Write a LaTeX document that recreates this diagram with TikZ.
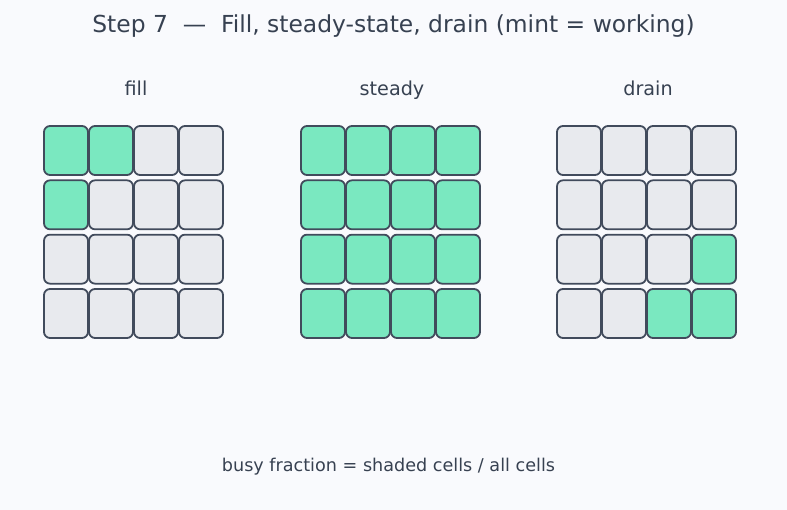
\documentclass[tikz,border=0pt]{standalone}
\usepackage{fontspec}
\setmainfont{DejaVu Sans}
\definecolor{bg}{HTML}{F9FAFD}
\definecolor{mint}{HTML}{7AE8C0}
\definecolor{idle}{HTML}{E8EAEE}
\definecolor{edge}{HTML}{414B5C}
\definecolor{ink}{HTML}{374151}
\tikzset{
  cell/.style={draw=edge, line width=1.8pt, rounded corners=6pt, minimum width=44pt, minimum height=49pt, inner sep=0pt, fill=idle},
  busy/.style={fill=mint},
  lbl/.style={text=ink, anchor=base, inner sep=0pt, font=\fontsize{19.2}{22}\selectfont},
  st/f-1-1/.style={busy}, st/f-1-2/.style={busy}, st/f-2-1/.style={busy},
  st/d-3-4/.style={busy}, st/d-4-3/.style={busy}, st/d-4-4/.style={busy},
}
\foreach \r in {1,...,4}{\foreach \c in {1,...,4}{\global\expandafter\let\csname pgfk@/tikz/st/s-\r-\c/.@cmd\expandafter\endcsname\csname pgfk@/tikz/busy/.@cmd\endcsname}}
\begin{document}
\begin{tikzpicture}[x=1pt,y=-1pt]
\useasboundingbox[fill=bg] (0,0) rectangle (787,510);
\node[text=ink, anchor=base, inner sep=0pt, font=\fontsize{23.4}{26}\selectfont] (title) at (393.5,32.5) {Step 7 \ — \ Fill, steady-state, drain (mint = working)};
\node[lbl] (lfill) at (136,96) {fill};
\node[lbl] (lsteady) at (392,96) {steady};
\node[lbl] (ldrain) at (648,96) {drain};
\foreach \g/\xa in {f/44, s/301, d/557}{
  \foreach \r in {1,...,4}{
    \foreach \c in {1,...,4}{
      \node[cell, st/\g-\r-\c/.try] (\g-\r-\c) at ({\xa+22+(\c-1)*45},{126+24.5+(\r-1)*54.33}) {};
    }
  }
}
\node[text=ink, anchor=base, inner sep=0pt, font=\fontsize{17.6}{20}\selectfont] (note) at (388.5,471) {busy fraction = shaded cells / all cells};
\end{tikzpicture}
\end{document}
